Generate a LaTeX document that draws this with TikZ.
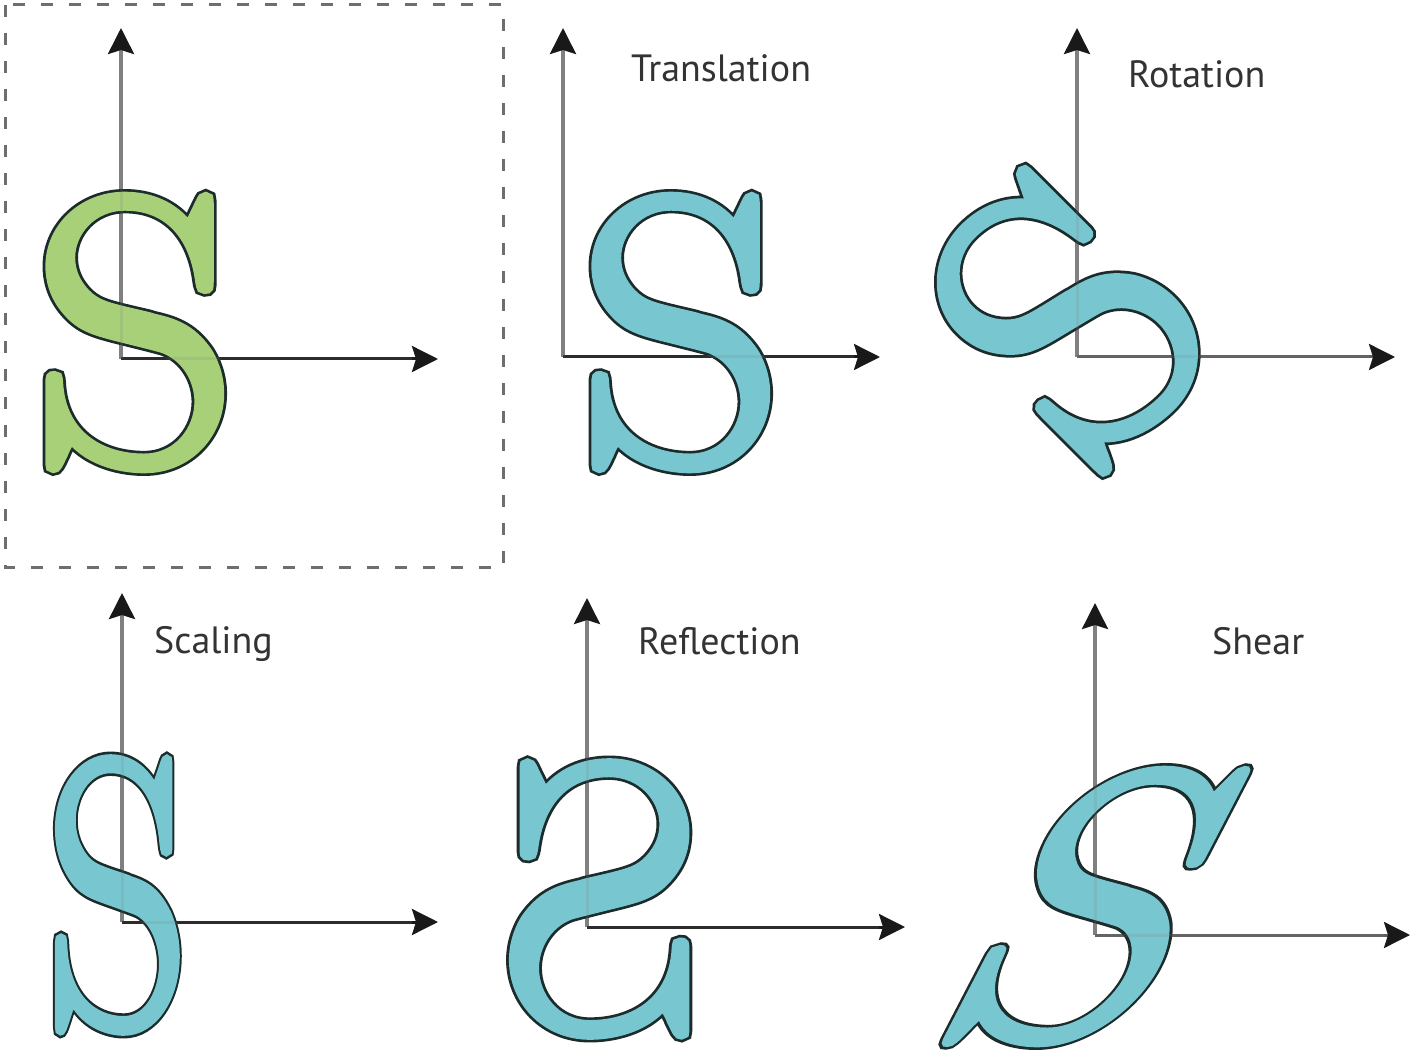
\documentclass[tikz,border=0pt]{standalone}
\usepackage{fontspec}
\setmainfont{PT Sans}
\newfontfamily\SfontF[FakeBold=2.6]{Latin Modern Roman}
\newfontfamily\SfontB[FakeBold=4]{Latin Modern Roman}
\usetikzlibrary{arrows.meta}
\definecolor{sgreen}{HTML}{A8D078}
\definecolor{scyan}{HTML}{78C6CF}
\definecolor{sline}{HTML}{1C2B2B}
\definecolor{axgray}{HTML}{808080}
\definecolor{axdark}{HTML}{1A1A1A}
\definecolor{axmid}{HTML}{5E5E5E}
\definecolor{labelgray}{HTML}{333333}
\definecolor{boxgray}{HTML}{6E6E6E}
\newcommand{\bigS}[1]{\fontsize{380}{380}\selectfont\rlap{\color{sline}\SfontB S}\textcolor{#1}{\SfontF S}}
\tikzset{
  glyph/.style={inner sep=0pt, outer sep=0pt, anchor=center},
  lbl/.style={anchor=base west, inner sep=0pt, text=labelgray, font=\fontsize{38}{38}\selectfont},
  tipa/.style={-{Stealth[length=26pt,width=26pt,inset=4pt,color=black!90]}},
  axv/.style={draw=axgray, line width=3.5pt, tipa},
  axh/.style={draw=axdark, line width=3pt, tipa},
  axhm/.style={draw=axmid, line width=3pt, tipa},
  faint/.style={draw=axgray, line width=3pt, opacity=0.18, shorten >=26pt},
  dashbox/.style={draw=boxgray, line width=3pt, dash pattern=on 12pt off 16pt}
}
\begin{document}
\begin{tikzpicture}[x=1pt,y=-1pt]
\useasboundingbox (0,0) rectangle (1413,1056);
\fill[white] (0,0) rectangle (1413,1056);
\draw[dashbox] (5,5) rectangle (503,567);
% coordinates
\coordinate (o1) at (121,359);  \coordinate (y1) at (121,28);  \coordinate (x1) at (438,359);
\coordinate (o2) at (563,357);  \coordinate (y2) at (563,28);  \coordinate (x2) at (880,357);
\coordinate (o3) at (1077,357); \coordinate (y3) at (1077,28); \coordinate (x3) at (1395,357);
\coordinate (o4) at (122,922);  \coordinate (y4) at (122,593); \coordinate (x4) at (438,922);
\coordinate (o5) at (587,927);  \coordinate (y5) at (587,598); \coordinate (x5) at (905,927);
\coordinate (o6) at (1095,935); \coordinate (y6) at (1095,603); \coordinate (x6) at (1410,935);
% axes
\draw[axv] (o1) -- (y1); \draw[axh] (o1) -- (x1);
\draw[axv] (o2) -- (y2); \draw[axh] (o2) -- (x2);
\draw[axv] (o3) -- (y3); \draw[axhm] (o3) -- (x3);
\draw[axv] (o4) -- (y4); \draw[axh] (o4) -- (x4);
\draw[axv] (o5) -- (y5); \draw[axh] (o5) -- (x5);
\draw[axv] (o6) -- (y6); \draw[axhm] (o6) -- (x6);
% letters
\node[glyph, xscale=1.06] (s1) at (135,332.5) {\bigS{sgreen}};
\node[glyph, xscale=1.06] (s2) at (681,332.5) {\bigS{scyan}};
\node[glyph, rotate=45, xscale=1.06] (s3) at (1068,317) {\bigS{scyan}};
\node[glyph, xscale=0.74] (s4) at (117.5,895) {\bigS{scyan}};
\node[glyph, xscale=-1.07] (s5) at (599,899) {\bigS{scyan}};
\node[glyph, xslant=0.52, xscale=1.06] (s6) at (1101.5,906.5) {\bigS{scyan}};
% faint axes seen through the letters
\draw[faint] (o1) -- (y1); \draw[faint] (o1) -- (x1);
\draw[faint] (o2) -- (y2); \draw[faint] (o2) -- (x2);
\draw[faint] (o3) -- (y3); \draw[faint] (o3) -- (x3);
\draw[faint] (o4) -- (y4); \draw[faint] (o4) -- (x4);
\draw[faint] (o5) -- (y5); \draw[faint] (o5) -- (x5);
\draw[faint] (o6) -- (y6); \draw[faint] (o6) -- (x6);
% labels
\node[lbl] (l2) at (631,82) {Translation};
\node[lbl] (l3) at (1128,88) {Rotation};
\node[lbl] (l4) at (154,653) {Scaling};
\node[lbl] (l5) at (638,654) {Reflection};
\node[lbl] (l6) at (1212,654) {Shear};
\end{tikzpicture}
\end{document}
